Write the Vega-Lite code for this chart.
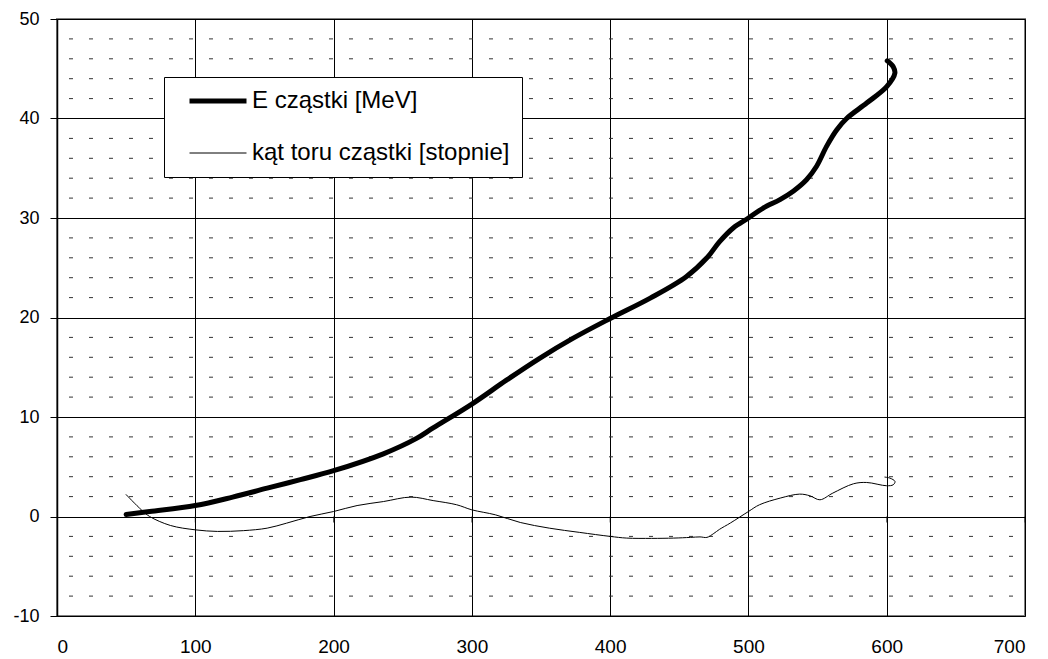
{
  "$schema": "https://vega.github.io/schema/vega-lite/v6.json",
  "width": 968,
  "height": 597,
  "autosize": {"type": "none"},
  "padding": {"left": 57, "top": 19, "right": 23, "bottom": 43},
  "background": "white",
  "config": {
    "view": {"stroke": "#808080", "strokeWidth": 2},
    "font": "Liberation Sans",
    "axis": {"labelFont": "Liberation Sans", "labelColor": "black", "title": null, "gridColor": "black", "gridOpacity": 1, "gridWidth": 1},
    "legend": {
      "orient": "none", "legendX": 107, "legendY": 58,
      "symbolType": "M-3,0H3", "symbolSize": 361,
      "labelFont": "Liberation Sans", "labelFontSize": 24, "labelColor": "black", "labelLimit": 500,
      "padding": 12, "symbolOffset": 30, "labelOffset": 22, "rowPadding": 28,
      "strokeColor": "black", "fillColor": "white"
    }
  },
  "datasets": {
    "curves": [
      {"series": "E cząstki [MeV]", "i": 1, "x": 50, "y": 0.2},
      {"series": "E cząstki [MeV]", "i": 2, "x": 67, "y": 0.5},
      {"series": "E cząstki [MeV]", "i": 3, "x": 100, "y": 1.1},
      {"series": "E cząstki [MeV]", "i": 4, "x": 127, "y": 1.95},
      {"series": "E cząstki [MeV]", "i": 5, "x": 152, "y": 2.85},
      {"series": "E cząstki [MeV]", "i": 6, "x": 176, "y": 3.7},
      {"series": "E cząstki [MeV]", "i": 7, "x": 200, "y": 4.6},
      {"series": "E cząstki [MeV]", "i": 8, "x": 236, "y": 6.3},
      {"series": "E cząstki [MeV]", "i": 9, "x": 260, "y": 7.85},
      {"series": "E cząstki [MeV]", "i": 10, "x": 272, "y": 8.9},
      {"series": "E cząstki [MeV]", "i": 11, "x": 300, "y": 11.3},
      {"series": "E cząstki [MeV]", "i": 12, "x": 325, "y": 13.7},
      {"series": "E cząstki [MeV]", "i": 13, "x": 349, "y": 15.9},
      {"series": "E cząstki [MeV]", "i": 14, "x": 373, "y": 17.9},
      {"series": "E cząstki [MeV]", "i": 15, "x": 400, "y": 19.9},
      {"series": "E cząstki [MeV]", "i": 16, "x": 429, "y": 21.95},
      {"series": "E cząstki [MeV]", "i": 17, "x": 455, "y": 24.1},
      {"series": "E cząstki [MeV]", "i": 18, "x": 470, "y": 26.0},
      {"series": "E cząstki [MeV]", "i": 19, "x": 479, "y": 27.6},
      {"series": "E cząstki [MeV]", "i": 20, "x": 489, "y": 29.0},
      {"series": "E cząstki [MeV]", "i": 21, "x": 500, "y": 30.0},
      {"series": "E cząstki [MeV]", "i": 22, "x": 510.7, "y": 31.0},
      {"series": "E cząstki [MeV]", "i": 23, "x": 522.8, "y": 31.85},
      {"series": "E cząstki [MeV]", "i": 24, "x": 532.4, "y": 32.7},
      {"series": "E cząstki [MeV]", "i": 25, "x": 542, "y": 33.85},
      {"series": "E cząstki [MeV]", "i": 26, "x": 549.3, "y": 35.2},
      {"series": "E cząstki [MeV]", "i": 27, "x": 556.5, "y": 37.2},
      {"series": "E cząstki [MeV]", "i": 28, "x": 563.8, "y": 38.85},
      {"series": "E cząstki [MeV]", "i": 29, "x": 571, "y": 40.0},
      {"series": "E cząstki [MeV]", "i": 30, "x": 585.5, "y": 41.55},
      {"series": "E cząstki [MeV]", "i": 31, "x": 600, "y": 43.2},
      {"series": "E cząstki [MeV]", "i": 32, "x": 605.9, "y": 44.55},
      {"series": "E cząstki [MeV]", "i": 33, "x": 604.7, "y": 45.2},
      {"series": "E cząstki [MeV]", "i": 34, "x": 600.4, "y": 45.8},
      {"series": "kąt toru cząstki [stopnie]", "i": 1, "x": 50, "y": 2.2},
      {"series": "kąt toru cząstki [stopnie]", "i": 2, "x": 61, "y": 0.67},
      {"series": "kąt toru cząstki [stopnie]", "i": 3, "x": 67, "y": 0.0},
      {"series": "kąt toru cząstki [stopnie]", "i": 4, "x": 82, "y": -0.9},
      {"series": "kąt toru cząstki [stopnie]", "i": 5, "x": 100, "y": -1.34},
      {"series": "kąt toru cząstki [stopnie]", "i": 6, "x": 116, "y": -1.5},
      {"series": "kąt toru cząstki [stopnie]", "i": 7, "x": 135, "y": -1.42},
      {"series": "kąt toru cząstki [stopnie]", "i": 8, "x": 152, "y": -1.17},
      {"series": "kąt toru cząstki [stopnie]", "i": 9, "x": 166, "y": -0.67},
      {"series": "kąt toru cząstki [stopnie]", "i": 10, "x": 183, "y": 0.0},
      {"series": "kąt toru cząstki [stopnie]", "i": 11, "x": 200, "y": 0.5},
      {"series": "kąt toru cząstki [stopnie]", "i": 12, "x": 217, "y": 1.1},
      {"series": "kąt toru cząstki [stopnie]", "i": 13, "x": 236, "y": 1.5},
      {"series": "kąt toru cząstki [stopnie]", "i": 14, "x": 256, "y": 1.95},
      {"series": "kąt toru cząstki [stopnie]", "i": 15, "x": 272, "y": 1.6},
      {"series": "kąt toru cząstki [stopnie]", "i": 16, "x": 289, "y": 1.18},
      {"series": "kąt toru cząstki [stopnie]", "i": 17, "x": 300, "y": 0.67},
      {"series": "kąt toru cząstki [stopnie]", "i": 18, "x": 317, "y": 0.17},
      {"series": "kąt toru cząstki [stopnie]", "i": 19, "x": 335, "y": -0.6},
      {"series": "kąt toru cząstki [stopnie]", "i": 20, "x": 356, "y": -1.17},
      {"series": "kąt toru cząstki [stopnie]", "i": 21, "x": 378, "y": -1.6},
      {"series": "kąt toru cząstki [stopnie]", "i": 22, "x": 400, "y": -2.0},
      {"series": "kąt toru cząstki [stopnie]", "i": 23, "x": 412, "y": -2.17},
      {"series": "kąt toru cząstki [stopnie]", "i": 24, "x": 430, "y": -2.2},
      {"series": "kąt toru cząstki [stopnie]", "i": 25, "x": 446, "y": -2.17},
      {"series": "kąt toru cząstki [stopnie]", "i": 26, "x": 458, "y": -2.1},
      {"series": "kąt toru cząstki [stopnie]", "i": 27, "x": 465, "y": -2.05},
      {"series": "kąt toru cząstki [stopnie]", "i": 28, "x": 470, "y": -2.1},
      {"series": "kąt toru cząstki [stopnie]", "i": 29, "x": 475, "y": -1.7},
      {"series": "kąt toru cząstki [stopnie]", "i": 30, "x": 479, "y": -1.3},
      {"series": "kąt toru cząstki [stopnie]", "i": 31, "x": 487, "y": -0.65},
      {"series": "kąt toru cząstki [stopnie]", "i": 32, "x": 500, "y": 0.5},
      {"series": "kąt toru cząstki [stopnie]", "i": 33, "x": 508, "y": 1.18},
      {"series": "kąt toru cząstki [stopnie]", "i": 34, "x": 523, "y": 1.85},
      {"series": "kąt toru cząstki [stopnie]", "i": 35, "x": 537, "y": 2.25},
      {"series": "kąt toru cząstki [stopnie]", "i": 36, "x": 544.5, "y": 2.08},
      {"series": "kąt toru cząstki [stopnie]", "i": 37, "x": 551.7, "y": 1.68},
      {"series": "kąt toru cząstki [stopnie]", "i": 38, "x": 561, "y": 2.35},
      {"series": "kąt toru cząstki [stopnie]", "i": 39, "x": 576, "y": 3.29},
      {"series": "kąt toru cząstki [stopnie]", "i": 40, "x": 585.5, "y": 3.42},
      {"series": "kąt toru cząstki [stopnie]", "i": 41, "x": 600, "y": 3.09},
      {"series": "kąt toru cząstki [stopnie]", "i": 42, "x": 604.7, "y": 3.19},
      {"series": "kąt toru cząstki [stopnie]", "i": 43, "x": 606, "y": 3.52},
      {"series": "kąt toru cząstki [stopnie]", "i": 44, "x": 602.3, "y": 3.86},
      {"series": "kąt toru cząstki [stopnie]", "i": 45, "x": 598.7, "y": 3.96}
    ],
    "minor": [
      {"y": -8}, {"y": -6}, {"y": -4}, {"y": -2},
      {"y": 2}, {"y": 4}, {"y": 6}, {"y": 8},
      {"y": 12}, {"y": 14}, {"y": 16}, {"y": 18},
      {"y": 22}, {"y": 24}, {"y": 26}, {"y": 28},
      {"y": 32}, {"y": 34}, {"y": 36}, {"y": 38},
      {"y": 42}, {"y": 44}, {"y": 46}, {"y": 48}
    ],
    "zeroticks": [
      {"x": 100, "y": 0}, {"x": 200, "y": 0}, {"x": 300, "y": 0}, {"x": 400, "y": 0},
      {"x": 500, "y": 0}, {"x": 600, "y": 0}, {"x": 700, "y": 0}
    ]
  },
  "layer": [
    {
      "data": {"name": "minor"},
      "mark": {"type": "rule", "color": "#333333", "strokeWidth": 1, "strokeDash": [4, 16], "strokeDashOffset": 8},
      "encoding": {
        "y": {"field": "y", "type": "quantitative", "scale": {"domain": [-10, 50], "nice": false},
              "axis": {"values": [-10, 0, 10, 20, 30, 40, 50], "labelExpr": "toString(datum.value)", "grid": true, "tickSize": 7, "tickColor": "black", "domainColor": "black", "domainWidth": 1.5, "labelPadding": 11, "labelFontSize": 18}}
      }
    },
    {
      "data": {"name": "zeroticks"},
      "mark": {"type": "tick", "orient": "vertical", "color": "black", "size": 6, "thickness": 1, "yOffset": 3},
      "encoding": {
        "x": {"field": "x", "type": "quantitative", "scale": {"domain": [0, 700], "nice": false},
              "axis": {"values": [0, 100, 200, 300, 400, 500, 600, 700], "grid": true, "ticks": false, "domain": false, "labelPadding": 21, "labelFontSize": 19}},
        "y": {"field": "y", "type": "quantitative"}
      }
    },
    {
      "data": {"name": "curves"},
      "mark": {"type": "line", "strokeCap": "round", "strokeJoin": "round", "interpolate": "catmull-rom"},
      "encoding": {
        "x": {"field": "x", "type": "quantitative"},
        "y": {"field": "y", "type": "quantitative"},
        "order": {"field": "i", "type": "quantitative"},
        "color": {"field": "series", "type": "nominal",
                  "scale": {"domain": ["E cząstki [MeV]", "kąt toru cząstki [stopnie]"], "range": ["black", "black"]},
                  "legend": {"title": null}},
        "strokeWidth": {"field": "series", "type": "nominal",
                  "scale": {"domain": ["E cząstki [MeV]", "kąt toru cząstki [stopnie]"], "range": [5, 1]},
                  "legend": {"title": null}}
      }
    }
  ]
}
